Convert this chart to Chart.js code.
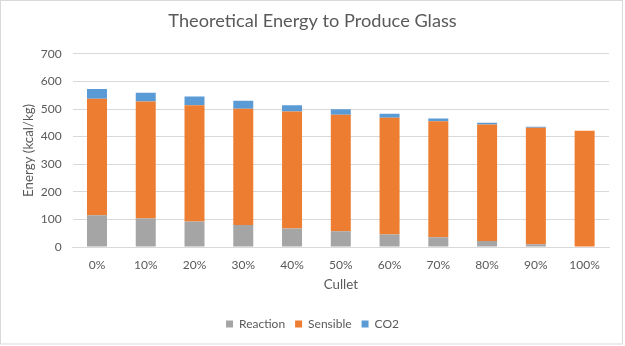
<!DOCTYPE html>
<html>
<head>
<meta charset="utf-8">
<script src="https://cdn.jsdelivr.net/npm/chart.js@4/dist/chart.umd.min.js"></script>
<style>
  html, body { margin: 0; padding: 0; background: #ffffff; }
  #wrap { width: 625px; height: 346px; position: relative; }
</style>
</head>
<body>
<div id="wrap"><canvas id="chart" width="625" height="346"></canvas></div>
<script>
// Cullet share of the batch
const categories = ['0%', '10%', '20%', '30%', '40%', '50%', '60%', '70%', '80%', '90%', '100%'];

// Energy components, kcal/kg
const reaction = [115, 103, 92, 80, 67, 57, 45, 35, 22, 10, 0];
const sensible = [422, 424, 422, 421, 424, 422, 423, 421, 422, 422, 421];
const co2      = [36, 32, 31, 29, 23, 20, 15, 10, 6, 4, 0];

const yTicks = [0, 100, 200, 300, 400, 500, 600, 700];

const FONT = 'Lato, "Open Sans", "Noto Sans", sans-serif';
const TEXT = '#595959';
const GRID = '#d9d9d9';

// Thin frame around the whole chart
const framePlugin = {
  id: 'frame',
  afterDraw(chart) {
    const ctx = chart.ctx;
    ctx.save();
    ctx.strokeStyle = GRID;
    ctx.lineWidth = 1;
    ctx.strokeRect(0.5, 0.5, 622, 343.5);
    ctx.restore();
  }
};

new Chart(document.getElementById('chart'), {
  type: 'bar',
  data: {
    labels: categories,
    datasets: [
      { label: 'Reaction', data: reaction, backgroundColor: '#a5a5a5' },
      { label: 'Sensible', data: sensible, backgroundColor: '#ed7d31' },
      { label: 'CO2',      data: co2,      backgroundColor: '#5b9bd5' }
    ]
  },
  options: {
    responsive: false,
    animation: false,
    devicePixelRatio: 1,
    layout: { padding: { top: 0, left: 16, right: 16, bottom: 6 } },
    datasets: { bar: { categoryPercentage: 1.0, barPercentage: 0.41 } },
    plugins: {
      title: {
        display: true,
        text: 'Theoretical Energy to Produce Glass',
        color: TEXT,
        font: { family: FONT, size: 18.2, weight: 'normal' },
        padding: { top: 10, bottom: 22 }
      },
      legend: {
        position: 'bottom',
        labels: {
          color: TEXT,
          font: { family: FONT, size: 12 },
          boxWidth: 7,
          boxHeight: 7,
          padding: 10
        }
      },
      tooltip: { enabled: false }
    },
    scales: {
      x: {
        stacked: true,
        grid: { display: false, drawTicks: false },
        border: { display: true, color: GRID },
        ticks: { color: TEXT, font: { family: FONT, size: 12 }, padding: 11, maxRotation: 0 },
        title: {
          display: true,
          text: 'Cullet',
          color: TEXT,
          font: { family: FONT, size: 13.3 },
          padding: { top: 4, bottom: 15 }
        },
        afterFit(scale) { scale.height = 61; }
      },
      y: {
        stacked: true,
        min: 0,
        max: 700,
        afterBuildTicks(scale) { scale.ticks = yTicks.map(v => ({ value: v })); },
        grid: { color: GRID, drawTicks: false },
        border: { display: false },
        ticks: { color: TEXT, font: { family: FONT, size: 12 }, padding: 11 },
        title: {
          display: true,
          text: 'Energy (kcal/kg)',
          color: TEXT,
          font: { family: FONT, size: 13.3 },
          padding: { top: 5, bottom: 0 }
        },
        afterFit(scale) { scale.width = 56.6; }
      }
    }
  },
  plugins: [framePlugin]
});
</script>
</body>
</html>
